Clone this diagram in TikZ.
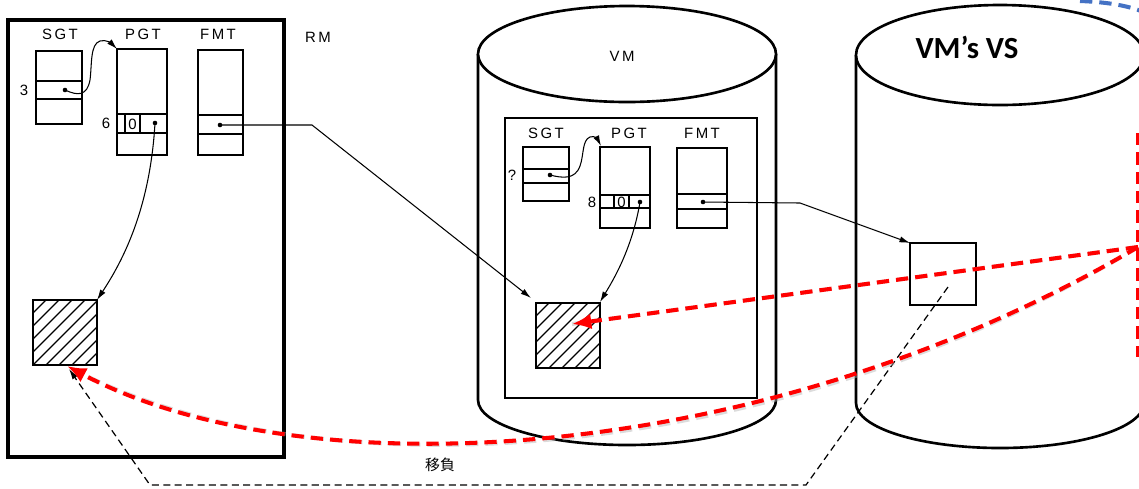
\documentclass[tikz,border=0pt]{standalone}
\usepackage{fontspec}
\setmainfont{Liberation Sans}
\newfontfamily\cjkfont{Noto Sans CJK TC}
\newfontfamily\calfont{Carlito}
\usetikzlibrary{arrows.meta}
\begin{document}
\begin{tikzpicture}[x=0.02cm,y=-0.02cm,
  lbl/.style={font=\fontsize{8.5}{10}\selectfont, inner sep=0pt},
  tbl/.style={draw, line width=1.1pt, inner sep=0pt, outer sep=0pt, anchor=north west},
  rowline/.style={line width=0.9pt},
  conn/.style={line width=0.6pt},
  cyl/.style={line width=1.5pt},
  hatchline/.style={line width=0.7pt},
  bdash/.style={line width=0.7pt, dash pattern=on 4pt off 2.5pt},
  reddash/.style={draw=red, line width=2.3pt, dash pattern=on 7pt off 4pt},
  shadowdash/.style={draw=black!30, line width=2.3pt, dash pattern=on 7pt off 4pt, opacity=0.45},
  bluedash/.style={draw={rgb,255:red,68;green,114;blue,196}, line width=2.3pt, dash pattern=on 7pt off 4pt},
  tip/.style={-{Latex[length=6pt,width=3.5pt]}},
  redtip/.style={-{Latex[length=11pt,width=9pt]}},
]
\useasboundingbox (0,0) rectangle (1139,488);

% ---------------- RM ----------------
\draw[line width=1.8pt] (8,20) rectangle (284,457);
\node[lbl] (rmlbl) at (318,37) {R\,M};
\node[lbl] (rsgtl) at (60,34) {S\,G\,T};
\node[lbl] (rpgtl) at (143,34) {P\,G\,T};
\node[lbl] (rfmtl) at (218,34) {F\,M\,T};

\node[tbl, minimum width=0.92cm, minimum height=1.46cm] (rsgt) at (36,51) {};
\draw[rowline] (36,81) -- (82,81) (36,99) -- (82,99);
\node[lbl] (r3) at (24,90) {3};
\coordinate (rsgtd) at (65,90);
\fill (rsgtd) circle (1.3pt);

\node[tbl, minimum width=1.0cm, minimum height=2.12cm] (rpgt) at (117,49) {};
\draw[rowline] (117,114) -- (167,114) (117,133) -- (167,133) (125,114) -- (125,133) (140,114) -- (140,133);
\node[lbl] (r6) at (106,123) {6};
\node[lbl] (r0) at (132.5,124) {0};
\coordinate (rpgtd) at (155,123);
\fill (rpgtd) circle (1.3pt);

\node[tbl, minimum width=0.9cm, minimum height=2.1cm] (rfmt) at (198,50) {};
\draw[rowline] (198,115) -- (243,115) (198,134) -- (243,134);
\coordinate (rfmtd) at (220,125);
\fill (rfmtd) circle (1.3pt);

\node[tbl, minimum width=1.28cm, minimum height=1.3cm] (rhatch) at (33,300) {};
\begin{scope}
  \clip (33,300) rectangle (97,365);
  \foreach \k in {-65,-52,...,65} \draw[hatchline] ({33+\k},365) -- ({98+\k},300);
\end{scope}

% ---------------- VM cylinder ----------------
\draw[cyl] (478,54) -- (478,400) arc[start angle=180, end angle=0, x radius=149, y radius=45] -- (776,54);
\draw[cyl, fill=white] (627,54) ellipse[x radius=149, y radius=48];
\node[lbl] (vmlbl) at (622,56) {V\,M};
\draw[line width=1.1pt] (505,118) rectangle (757,398);

\node[lbl] (vsgtl) at (546,133) {S\,G\,T};
\node[lbl] (vpgtl) at (629,133) {P\,G\,T};
\node[lbl] (vfmtl) at (702,133) {F\,M\,T};

\node[tbl, minimum width=0.92cm, minimum height=1.08cm] (vsgt) at (523,147) {};
\draw[rowline] (523,169) -- (569,169) (523,183) -- (569,183);
\node[lbl] (vq) at (512,175) {?};
\coordinate (vsgtd) at (550,175);
\fill (vsgtd) circle (1.3pt);

\node[tbl, minimum width=1.0cm, minimum height=1.62cm] (vpgt) at (600,147) {};
\draw[rowline] (600,195) -- (650,195) (600,208) -- (650,208) (614,195) -- (614,208) (629,195) -- (629,208);
\node[lbl] (v8) at (592,202) {8};
\node[lbl] (v0) at (621.5,202) {0};
\coordinate (vpgtd) at (640,202);
\fill (vpgtd) circle (1.3pt);

\node[tbl, minimum width=1.0cm, minimum height=1.6cm] (vfmt) at (677,148) {};
\draw[rowline] (677,194) -- (727,194) (677,209) -- (727,209);
\coordinate (vfmtd) at (703,202);
\fill (vfmtd) circle (1.3pt);

\node[tbl, minimum width=1.28cm, minimum height=1.3cm] (vhatch) at (536,303) {};
\begin{scope}
  \clip (536,303) rectangle (600,368);
  \foreach \k in {-65,-52,...,65} \draw[hatchline] ({536+\k},368) -- ({601+\k},303);
\end{scope}

% ---------------- VS cylinder ----------------
\draw[cyl] (856,55) -- (856,403) arc[start angle=180, end angle=0, x radius=144, y radius=45] -- (1144,55);
\draw[cyl, fill=white] (1000,55) ellipse[x radius=144, y radius=50];
\node[font=\calfont\bfseries\fontsize{17.5}{20}\selectfont, inner sep=0pt] (vslbl) at (967,47) {VM’s VS};
\node[tbl, minimum width=1.32cm, minimum height=1.24cm] (vsbox) at (910,243) {};

% ---------------- black connectors ----------------
\coordinate (rtopgt) at (117,49);
\draw[conn, tip] (rsgtd) .. controls (78,96) and (87,96) .. (90,80)
  .. controls (92,65) and (90,44) .. (100,41) .. controls (106,39) and (112,44) .. (rtopgt);
\coordinate (rhne) at (97,300);
\draw[conn, tip] (rpgtd) .. controls (150,210) and (122,262) .. (rhne);
\coordinate (vhnw) at (531,298);
\draw[conn, tip] (rfmtd) -- (312,125) -- (vhnw);

\coordinate (vtopgt) at (601,146);
\draw[conn, tip] (vsgtd) .. controls (562,178) and (575,180) .. (580,166)
  .. controls (584,155) and (582,140) .. (590,137) .. controls (595,135) and (598,140) .. (vtopgt);
\coordinate (vhne) at (600,302);
\draw[conn, tip] (vpgtd) .. controls (632,250) and (612,282) .. (vhne);
\coordinate (vsnw) at (910,243);
\draw[conn, tip] (vfmtd) -- (800,203) -- (vsnw);

\coordinate (vsin) at (948,287);
\coordinate (rhb) at (69,369);
\draw[bdash, tip] (vsin) -- (806,485) -- (150,485) -- (rhb);
\node[font=\cjkfont\fontsize{8.5}{10}\selectfont, inner sep=0pt] (yiye) at (440,465) {移負};

% ---------------- red / blue overlays ----------------
\coordinate (rsrc) at (1138,247);
\coordinate (vtgt) at (572,324);
\coordinate (rtgt) at (67,366);
\begin{scope}[shift={(2,4)}]
  \draw[shadowdash] (rsrc) -- (vtgt);
  \draw[shadowdash] (rsrc) .. controls (760,470) and (300,490) .. (rtgt);
\end{scope}
\draw[reddash] (1138,133) -- (1138,357);
\draw[reddash, redtip] (rsrc) -- (vtgt);
\draw[reddash, redtip] (rsrc) .. controls (760,470) and (300,490) .. (rtgt);
\draw[bluedash] (1080,1) .. controls (1105,2) and (1125,5) .. (1141,11);
\end{tikzpicture}
\end{document}
